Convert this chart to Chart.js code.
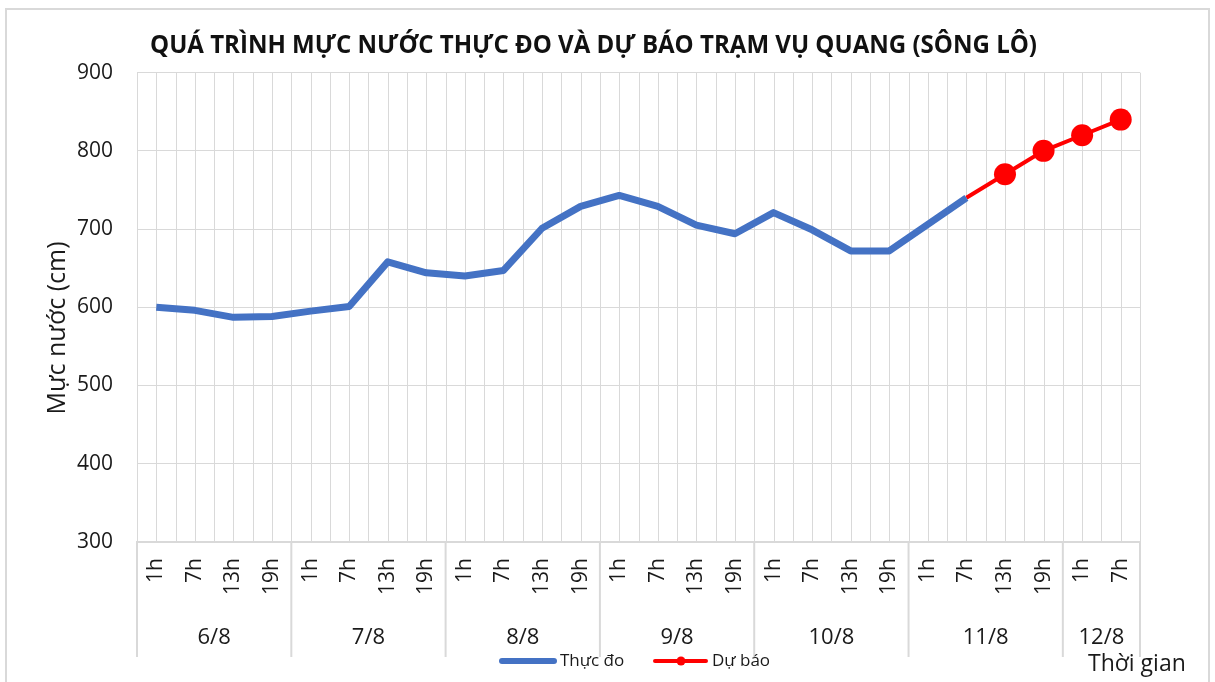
<!DOCTYPE html>
<html>
<head>
<meta charset="utf-8">
<script src="https://cdn.jsdelivr.net/npm/chart.js@4.4.0/dist/chart.umd.min.js"></script>
<style>
  body { margin:0; background:#fff; }
  #frame { position:absolute; left:5px; top:8px; width:1201px; height:700px; border:2px solid #d9d9d9; }
  canvas { position:absolute; left:0; top:0; }
</style>
</head>
<body>
<div id="frame"></div>
<canvas id="chart" width="1215" height="682"></canvas>
<script>
// nhãn giờ và ngày
const hourLabels = ['1h','7h','13h','19h', '1h','7h','13h','19h', '1h','7h','13h','19h',
                    '1h','7h','13h','19h', '1h','7h','13h','19h', '1h','7h','13h','19h', '1h','7h'];
const dayLabels = ['6/8','7/8','8/8','9/8','10/8','11/8','12/8'];
const daySpans = [4,4,4,4,4,4,2];

// mực nước (cm)
const observed = [600,596,587,588,595,601,658,644,640,647,701,729,743,729,705,694,721,699,672,672,706,740,
                  null,null,null,null];
const forecast = [null,null,null,null,null,null,null,null,null,null,null,null,null,null,null,null,null,null,null,null,null,
                  740,770,800,820,840];
const yTicks = [300,400,500,600,700,800,900];

const FONT = "'Open Sans', sans-serif";
const GRID = '#d9d9d9';
const TEXT = '#1a1a1a';

const decor = {
  id: 'decor',
  beforeDatasetsDraw(chart) {
    const {ctx, chartArea: a, scales: {x}} = chart;
    ctx.save();
    ctx.strokeStyle = GRID;
    ctx.lineWidth = 1;
    // vertical grid at category edges and centres
    for (let k = 0; k <= hourLabels.length * 2; k++) {
      let px = Math.round(x.getPixelForValue(k / 2 - 0.5)) + 0.5;
      ctx.beginPath(); ctx.moveTo(px, a.top); ctx.lineTo(px, a.bottom); ctx.stroke();
    }
    ctx.restore();
  },
  afterDraw(chart) {
    const {ctx, chartArea: a, scales: {x}} = chart;
    ctx.save();
    // group separators below the axis
    ctx.strokeStyle = GRID;
    ctx.lineWidth = 2;
    let idx = 0;
    let edges = [-0.5];
    daySpans.forEach(n => { idx += n; edges.push(idx - 0.5); });
    edges.forEach(e => {
      let px = x.getPixelForValue(e);
      ctx.beginPath(); ctx.moveTo(px, a.bottom); ctx.lineTo(px, 657); ctx.stroke();
    });
    // hour labels, rotated
    ctx.fillStyle = TEXT;
    ctx.font = "21px " + FONT;
    hourLabels.forEach((h, i) => {
      ctx.save();
      ctx.translate(x.getPixelForValue(i), 558);
      ctx.rotate(-Math.PI / 2);
      ctx.textAlign = 'right';
      ctx.textBaseline = 'middle';
      ctx.fillText(h, 0, 0);
      ctx.restore();
    });
    // day labels
    ctx.font = "22px " + FONT;
    ctx.textAlign = 'center';
    ctx.textBaseline = 'middle';
    dayLabels.forEach((d, j) => {
      let mid = (x.getPixelForValue(edges[j]) + x.getPixelForValue(edges[j + 1])) / 2;
      ctx.fillText(d, mid, 638);
    });
    // axis title x
    ctx.font = "23px " + FONT;
    ctx.textAlign = 'left';
    ctx.fillText('Thời gian', 1088, 664);
    // axis title y
    ctx.save();
    ctx.translate(58, 328);
    ctx.rotate(-Math.PI / 2);
    ctx.font = "25px " + FONT;
    ctx.textAlign = 'center';
    ctx.fillText('Mực nước (cm)', 0, 0);
    ctx.restore();
    // chart title
    ctx.font = "bold 25px " + FONT;
    ctx.fillStyle = '#111';
    ctx.textAlign = 'left';
    ctx.fillText('QUÁ TRÌNH MỰC NƯỚC THỰC ĐO VÀ DỰ BÁO TRẠM VỤ QUANG (SÔNG LÔ)', 150, 46, 887);
    // legend
    ctx.font = "17px " + FONT;
    ctx.lineCap = 'round';
    ctx.strokeStyle = '#4472c4'; ctx.lineWidth = 6;
    ctx.beginPath(); ctx.moveTo(502, 661); ctx.lineTo(554, 661); ctx.stroke();
    ctx.fillStyle = TEXT;
    ctx.fillText('Thực đo', 560, 661);
    ctx.strokeStyle = '#ff0000'; ctx.lineWidth = 4;
    ctx.beginPath(); ctx.moveTo(655, 661); ctx.lineTo(706, 661); ctx.stroke();
    ctx.fillStyle = '#ff0000';
    ctx.beginPath(); ctx.arc(681, 661, 4.5, 0, Math.PI * 2); ctx.fill();
    ctx.fillStyle = TEXT;
    ctx.fillText('Dự báo', 712, 661);
    ctx.restore();
  }
};

new Chart(document.getElementById('chart'), {
  type: 'line',
  data: {
    labels: hourLabels,
    datasets: [
      {
        label: 'Thực đo',
        data: observed,
        borderColor: '#4472c4',
        borderWidth: 7,
        pointRadius: 0,
        tension: 0,
        borderJoinStyle: 'round'
      },
      {
        label: 'Dự báo',
        data: forecast,
        borderColor: '#ff0000',
        backgroundColor: '#ff0000',
        borderWidth: 4,
        pointRadius: forecast.map((v, i) => i === 21 ? 0 : 11),
        pointBorderWidth: 0,
        pointHoverRadius: 11,
        tension: 0
      }
    ]
  },
  options: {
    responsive: false,
    animation: false,
    layout: { padding: { top: 72.7, right: 75, bottom: 0, left: 0 } },
    plugins: { legend: { display: false }, title: { display: false }, tooltip: { enabled: false } },
    scales: {
      x: {
        offset: true,
        grid: { display: false },
        border: { display: true, color: GRID, width: 2 },
        ticks: { display: false },
        afterFit: s => { s.height = 140.3; }
      },
      y: {
        min: yTicks[0],
        max: yTicks[yTicks.length - 1],
        afterBuildTicks: s => { s.ticks = yTicks.map(v => ({ value: v })); },
        grid: { color: GRID, lineWidth: 1, drawTicks: false },
        border: { display: false },
        ticks: { padding: 24, color: TEXT, font: { family: FONT, size: 21 } },
        afterFit: s => { s.width = 137; }
      }
    }
  },
  plugins: [decor]
});
</script>
</body>
</html>
